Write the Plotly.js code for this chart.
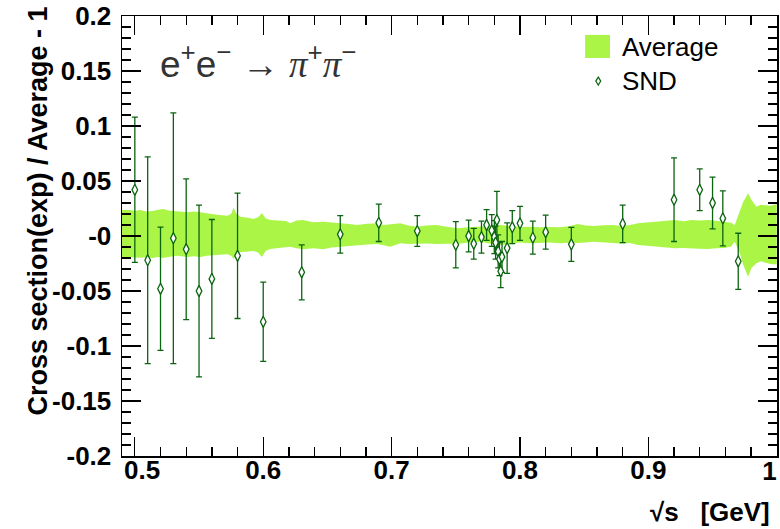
<!DOCTYPE html>
<html>
<head>
<meta charset="utf-8">
<script src="https://cdn.plot.ly/plotly-3.0.1.min.js"></script>
<style>html,body{margin:0;padding:0;background:#fff;}#chart{width:780px;height:529px;}</style>
</head>
<body>
<div id="chart"></div>
<script>
// ---- SND measurements: sqrt(s) [GeV], ratio-1, error ----
const sndX = [0.500,0.510,0.520,0.530,0.540,0.550,0.560,0.580,0.600,0.630,0.660,0.690,0.720,0.750,0.760,0.764,0.770,0.774,0.778,0.780,0.781,0.782,0.783,0.784,0.785,0.786,0.790,0.794,0.800,0.810,0.820,0.840,0.880,0.920,0.940,0.950,0.958,0.970];
const sndY = [0.042,-0.022,-0.048,-0.002,-0.012,-0.050,-0.039,-0.018,-0.078,-0.033,0.0015,0.012,0.0045,-0.008,0.000,-0.007,-0.001,0.010,0.005,-0.001,-0.006,0.0145,-0.014,-0.021,-0.032,-0.019,-0.011,0.008,0.0115,-0.0015,0.0035,-0.0076,0.011,0.033,0.042,0.030,0.016,-0.023];
const sndErr = [0.066,0.094,0.056,0.114,0.064,0.078,0.054,0.057,0.036,0.025,0.017,0.017,0.014,0.021,0.0145,0.014,0.0145,0.014,0.0145,0.015,0.015,0.026,0.015,0.015,0.015,0.014,0.023,0.015,0.0155,0.015,0.0155,0.0155,0.017,0.038,0.019,0.0235,0.025,0.0255];

// ---- Average band (upper / lower edge) ----
const bandX = [0.490,0.496,0.500,0.504,0.509,0.514,0.518,0.522,0.527,0.533,0.537,0.541,0.546,0.551,0.556,0.561,0.566,0.572,0.575,0.577,0.579,0.582,0.587,0.5925,0.596,0.599,0.602,0.6055,0.612,0.618,0.621,0.626,0.631,0.639,0.647,0.653,0.660,0.667,0.673,0.681,0.6885,0.694,0.699,0.7067,0.713,0.7197,0.727,0.735,0.743,0.751,0.760,0.769,0.777,0.7845,0.792,0.800,0.808,0.8156,0.823,0.831,0.838,0.845,0.851,0.857,0.865,0.8725,0.879,0.8856,0.892,0.900,0.907,0.914,0.921,0.927,0.9337,0.940,0.9466,0.953,0.9596,0.9645,0.9673,0.9713,0.9738,0.9777,0.9803,0.9842,0.9875,0.9907,0.995,1.000];
const bandUp = [0.0236,0.0236,0.0228,0.0236,0.0222,0.0227,0.0238,0.0245,0.0230,0.0227,0.0220,0.0215,0.0222,0.0215,0.0205,0.0197,0.0192,0.0185,0.0200,0.0258,0.0205,0.0176,0.0168,0.0155,0.0170,0.0206,0.0160,0.0145,0.0140,0.0136,0.0115,0.0140,0.0145,0.0125,0.0130,0.0120,0.0115,0.0108,0.0100,0.0112,0.0115,0.0100,0.0106,0.0115,0.0095,0.0085,0.0095,0.0100,0.0085,0.0070,0.0080,0.0082,0.0090,0.0100,0.0088,0.0082,0.0085,0.0079,0.0082,0.0079,0.0088,0.0109,0.0095,0.0091,0.0098,0.0100,0.0092,0.0100,0.0115,0.0125,0.0130,0.0138,0.0145,0.0135,0.0145,0.0140,0.0145,0.0138,0.0130,0.0120,0.0100,0.0220,0.0310,0.0388,0.0327,0.0267,0.0285,0.0280,0.0275,0.0288];
const bandLo = [-0.0190,-0.0190,-0.0198,-0.0200,-0.0195,-0.0200,-0.0192,-0.0200,-0.0188,-0.0180,-0.0186,-0.0190,-0.0185,-0.0190,-0.0180,-0.0173,-0.0170,-0.0167,-0.0180,-0.0210,-0.0172,-0.0148,-0.0142,-0.0136,-0.0150,-0.0190,-0.0135,-0.0118,-0.0110,-0.0103,-0.0097,-0.0112,-0.0120,-0.0112,-0.0120,-0.0105,-0.0097,-0.0090,-0.0082,-0.0078,-0.0073,-0.0085,-0.0097,-0.0067,-0.0072,-0.0073,-0.0068,-0.0073,-0.0070,-0.0073,-0.0060,-0.0052,-0.0070,-0.0082,-0.0070,-0.0060,-0.0066,-0.0064,-0.0060,-0.0067,-0.0062,-0.0064,-0.0058,-0.0052,-0.0060,-0.0064,-0.0068,-0.0064,-0.0082,-0.0090,-0.0097,-0.0105,-0.0112,-0.0108,-0.0112,-0.0115,-0.0118,-0.0112,-0.0110,-0.0095,-0.0052,-0.0158,-0.0260,-0.0370,-0.0290,-0.0248,-0.0230,-0.0240,-0.0255,-0.0260];

// ---- axis tick labels ----
const xTickVals = [0.5,0.6,0.7,0.8,0.9];
const xTickText = ["&nbsp;&nbsp;0.5","0.6","0.7","0.8","0.9"];
const xEndTickVals = [1.0];
const xEndTickText = ["1"];
const yTickVals = [-0.2,-0.15,-0.1,-0.05,0,0.05,0.1,0.15,0.2];
const yTickText = ["-0.2","-0.15","-0.1","-0.05","-0","0.05","0.1","0.15","0.2"];

// ---- legend labels ----
const legendNames = ["Average", "SND"];

const bandColor = "#abf547";
const sndColor = "#0b6410";
const sans = "Liberation Sans, Arial, sans-serif";
const xRange = [0.49, 1.0002];

const bandTrace = {
  x: bandX.concat(bandX.slice().reverse()),
  y: bandUp.concat(bandLo.slice().reverse()),
  type: "scatter", mode: "lines", fill: "toself",
  fillcolor: bandColor, line: {width: 0, color: bandColor},
  name: legendNames[0], hoverinfo: "skip", showlegend: false
};
const sndTrace = {
  x: sndX, y: sndY, type: "scatter", mode: "markers", name: legendNames[1], showlegend: false,
  xaxis: "x2", yaxis: "y",
  marker: {symbol: "diamond-tall", size: 8, color: "#ffffff", line: {color: sndColor, width: 1.3}},
  error_y: {type: "data", array: sndErr, visible: true, color: sndColor, thickness: 1.3, width: 3}
};

const tickFont = {family: sans, size: 26, color: "#000", weight: "bold"};
const layout = {
  width: 780, height: 529,
  margin: {l: 122, r: 3, t: 16, b: 73},
  paper_bgcolor: "#fff", plot_bgcolor: "#fff",
  showlegend: false,
  xaxis: {range: xRange, showgrid: false, zeroline: false, showline: true, linecolor: "#000", linewidth: 1.5,
          mirror: "ticks", ticks: "inside", ticklen: 19, tickwidth: 1.3, tickcolor: "#000",
          tickvals: xTickVals.concat(xEndTickVals), ticktext: xTickText.concat([""]), tickfont: tickFont, ticklabelstandoff: -10,
          minor: {dtick: 0.02, tick0: 0.5, ticks: "inside", ticklen: 9, tickwidth: 1.3, tickcolor: "#000"}},
  xaxis2: {range: xRange, overlaying: "x", anchor: "y", side: "bottom", showgrid: false, zeroline: false,
           showline: false, ticks: "", tickvals: xEndTickVals, ticktext: xEndTickText, tickfont: tickFont,
           ticklabelposition: "outside left", ticklabelstandoff: -3, ticklabeloverflow: "allow"},
  yaxis: {range: [-0.2, 0.2], showgrid: false, zeroline: false, showline: true, linecolor: "#000", linewidth: 1.5,
          mirror: "ticks", ticks: "inside", ticklen: 19, tickwidth: 1.3, tickcolor: "#000",
          tickvals: yTickVals, ticktext: yTickText, tickfont: tickFont, ticklabelstandoff: 4,
          minor: {dtick: 0.01, tick0: 0, ticks: "inside", ticklen: 9, tickwidth: 1.3, tickcolor: "#000"}},
  shapes: [
    {type: "rect", xref: "paper", yref: "paper", x0: 0.707, x1: 0.745, y0: 0.9045, y1: 0.957,
     fillcolor: bandColor, line: {width: 0}},
    {type: "path", xref: "paper", yref: "paper",
     path: "M 0.7271,0.8611 L 0.7309,0.852 L 0.7271,0.8429 L 0.7233,0.852 Z",
     fillcolor: "#ffffff", line: {color: sndColor, width: 1.2}}
  ],
  annotations: [
    {text: "Cross section(exp) / Average - 1", xref: "paper", yref: "paper", x: -0.128, y: 0.556,
     textangle: -90, showarrow: false, xanchor: "center", yanchor: "middle",
     font: {family: sans, size: 27, color: "#000", weight: "bold"}},
    {text: "√s   [GeV]", xref: "paper", yref: "paper", x: 0.993, y: -0.089, showarrow: false,
     xanchor: "right", yanchor: "top",
     font: {family: sans, size: 26, color: "#000", weight: "bold"}},
    {text: "e<sup>+</sup>e<sup>−</sup> → <span style=\"font-family:'Liberation Serif';font-style:italic\">π</span><sup>+</sup><span style=\"font-family:'Liberation Serif';font-style:italic\">π</span><sup>−</sup>",
     xref: "paper", yref: "paper", x: 0.055, y: 0.897, showarrow: false, xanchor: "left", yanchor: "middle",
     font: {family: sans, size: 37, color: "#333"}},
    {text: legendNames[0], xref: "paper", yref: "paper", x: 0.761, y: 0.9295, showarrow: false,
     xanchor: "left", yanchor: "middle", font: {family: sans, size: 26, color: "#000"}},
    {text: legendNames[1], xref: "paper", yref: "paper", x: 0.761, y: 0.852, showarrow: false,
     xanchor: "left", yanchor: "middle", font: {family: sans, size: 26, color: "#000"}}
  ]
};

Plotly.newPlot("chart", [bandTrace, sndTrace], layout, {displayModeBar: false, staticPlot: true});
</script>
</body>
</html>
